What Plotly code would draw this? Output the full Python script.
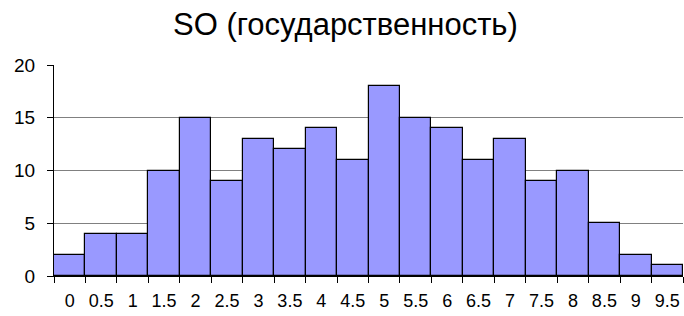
import plotly.graph_objects as go

categories = ["0", "0.5", "1", "1.5", "2", "2.5", "3", "3.5", "4", "4.5",
              "5", "5.5", "6", "6.5", "7", "7.5", "8", "8.5", "9", "9.5"]
counts = [2, 4, 4, 10, 15, 9, 13, 12, 14, 11, 18, 15, 14, 11, 13, 9, 10, 5, 2, 1]
y_ticks = [0, 5, 10, 15, 20]

fig = go.Figure(go.Bar(
    x=categories, y=counts,
    marker=dict(color="#9999FF", line=dict(color="black", width=1.2)),
))
fig.update_layout(
    width=684, height=316,
    margin=dict(l=54, r=1, t=65, b=40),
    paper_bgcolor="white", plot_bgcolor="white",
    bargap=0,
    showlegend=False,
    title=dict(text="SO (государственность)", x=0.505, xanchor="center", y=0.925, yanchor="middle",
               font=dict(family="Liberation Sans, Arial", size=31, color="black")),
    font=dict(family="Liberation Sans, Arial", size=18, color="black"),
)
fig.update_xaxes(
    type="category", tickson="boundaries", ticks="outside", ticklen=6, tickcolor="black",
    showline=True, linecolor="black", linewidth=1, showgrid=False, tickangle=0,
    tickfont=dict(size=18), automargin=False, ticklabelstandoff=8,
)
fig.update_yaxes(
    range=[0, 20], tickvals=y_ticks, ticks="outside", ticklen=6, tickcolor="black",
    showline=True, linecolor="black", linewidth=1,
    showgrid=True, gridcolor="#808080", gridwidth=1, zeroline=False,
    tickfont=dict(size=19), automargin=False, ticklabelstandoff=8,
)
fig.write_html("out.html", config={"displayModeBar": False},
               post_script="document.body.style.margin='0';")
